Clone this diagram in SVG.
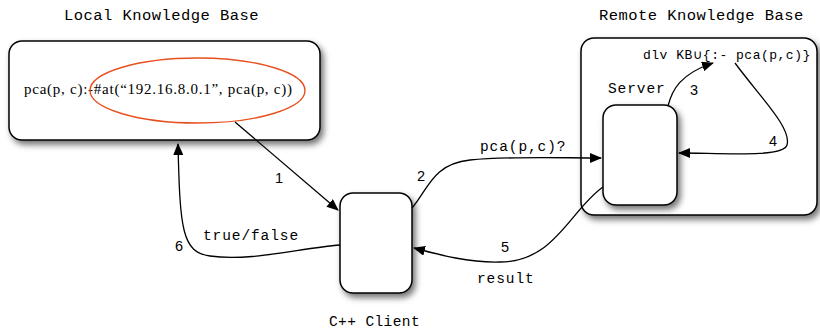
<svg xmlns="http://www.w3.org/2000/svg" width="820" height="333" viewBox="0 0 820 333">
<defs>
<filter id="sh" x="-20%" y="-20%" width="140%" height="150%">
<feDropShadow dx="3" dy="4" stdDeviation="3" flood-color="#000" flood-opacity="0.55"/>
</filter>
<marker id="ah" viewBox="0 0 12 10" refX="11" refY="5" markerWidth="12" markerHeight="10" markerUnits="userSpaceOnUse" orient="auto">
<path d="M0,0 L12,5 L0,10 Z" fill="#000"/>
</marker>
</defs>
<style>
.box{fill:#fff;stroke:#000;stroke-width:1.5;filter:url(#sh)}
.mono{font-family:"Liberation Mono","DejaVu Sans Mono",monospace;font-size:14.5px;fill:#000;letter-spacing:0.9px}
.title{font-size:15.5px;letter-spacing:0.45px}
.num{font-family:"Liberation Sans",Arial,sans-serif;font-size:14.5px;fill:#000}
.conn path{fill:none;stroke:#000;stroke-width:1.3}
</style>
<rect width="820" height="333" fill="#fff"/>
<g id="local-kb">
<rect class="box" x="9" y="41" width="311" height="99" rx="13"/>
<text class="mono title" x="64" y="20">Local Knowledge Base</text>
<text x="24" y="94" font-family="Liberation Serif,serif" font-size="15" textLength="268" lengthAdjust="spacing">pca(p, c):-#at(“192.16.8.0.1”, pca(p, c))</text>
<ellipse cx="197.5" cy="90.5" rx="107.5" ry="32.5" fill="none" stroke="#e8501e" stroke-width="1.4"/>
</g>
<g id="remote-kb">
<rect class="box" x="581" y="38" width="236" height="177" rx="13"/>
<text class="mono title" x="599" y="20">Remote Knowledge Base</text>
<text class="mono" x="643" y="59" style="font-size:13px;letter-spacing:0.5px">dlv KB<tspan style="font-family:'DejaVu Sans',sans-serif;font-size:13px">∪</tspan>{:- pca(p,c)}</text>
</g>
<g id="server">
<rect class="box" x="603" y="105" width="74" height="100" rx="13"/>
<text class="mono" x="608" y="93">Server</text>
</g>
<g id="client">
<rect class="box" x="340" y="193" width="72" height="100" rx="13"/>
<text class="mono" x="329" y="326" style="letter-spacing:0.4px">C++ Client</text>
</g>
<g id="connectors" class="conn">
<path d="M235,122 L338,210" marker-end="url(#ah)"/>
<path d="M412,208 C428,190 432,164 470,160 C510,156 560,158 601,158" marker-end="url(#ah)"/>
<path d="M668,106 C672,90 680,74 713,63" marker-end="url(#ah)"/>
<path d="M735,63 C760,97 792,128 787,145 C783,158 720,153 679,153" marker-end="url(#ah)"/>
<path d="M603,187 C570,210 555,262 500,262 C470,263 440,255 414,248" marker-end="url(#ah)"/>
<path d="M340,245 C300,248 250,262 210,256 C182,252 180,230 178,144" marker-end="url(#ah)"/>
</g>
<g id="labels">
<text class="num" x="275" y="183">1</text>
<text class="num" x="417" y="181">2</text>
<text class="num" x="690" y="95">3</text>
<text class="num" x="769" y="146">4</text>
<text class="num" x="501" y="252">5</text>
<text class="num" x="175" y="251">6</text>
<text class="mono" x="480" y="151">pca(p,c)?</text>
<text class="mono" x="203" y="240">true/false</text>
<text class="mono" x="477" y="283">result</text>
</g>
</svg>
